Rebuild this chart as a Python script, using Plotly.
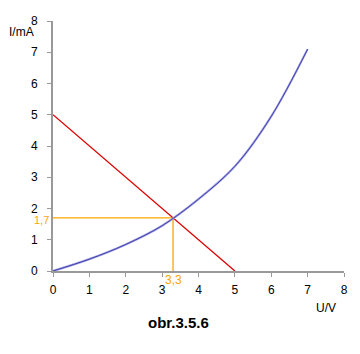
import plotly.graph_objects as go

# Data
u_curve = [0, 1, 2, 3, 4, 5, 6, 7]
i_curve = [0, 0.38, 0.85, 1.45, 2.3, 3.35, 4.95, 7.1]
u_load = [0, 5]
i_load = [5, 0]
u_op = 3.3
i_op = 1.7
x_ticks = [0, 1, 2, 3, 4, 5, 6, 7, 8]
y_ticks = [0, 1, 2, 3, 4, 5, 6, 7, 8]

FONT = "Liberation Sans, Arial, sans-serif"
ORANGE = "#ffa500"

fig = go.Figure()
fig.add_trace(go.Scatter(x=[0, u_op, u_op], y=[i_op, i_op, 0], mode="lines",
                         line=dict(color=ORANGE, width=1.3), hoverinfo="skip"))
fig.add_trace(go.Scatter(x=u_load, y=i_load, mode="lines",
                         line=dict(color="#dd0000", width=1.3), hoverinfo="skip"))
fig.add_trace(go.Scatter(x=u_curve, y=i_curve, mode="lines", line_shape="spline",
                         line=dict(color="#a0a0e4", width=2.2), hoverinfo="skip"))
fig.add_trace(go.Scatter(x=u_curve, y=i_curve, mode="lines", line_shape="spline",
                         line=dict(color="#2a2a9a", width=0.8), hoverinfo="skip"))

axis_common = dict(showgrid=False, zeroline=False, showline=True, linecolor="#999999",
                   linewidth=2, ticks="outside", tickcolor="#999999", ticklen=4,
                   tickwidth=1, tickfont=dict(family=FONT, size=12, color="black"))
fig.update_xaxes(range=[0, 8], tickvals=x_ticks, ticklabelstandoff=3, **axis_common)
fig.update_yaxes(range=[0, 8], tickvals=y_ticks, ticklabelstandoff=7, **axis_common)

fig.add_annotation(x=0, y=i_op, xref="x", yref="y", text="1,7", showarrow=False,
                   xanchor="right", xshift=-2, yshift=-2,
                   font=dict(family=FONT, size=11, color=ORANGE))
fig.add_annotation(x=u_op, y=0, xref="x", yref="y", text="3,3", showarrow=False,
                   yanchor="top", yshift=0, font=dict(family=FONT, size=12, color=ORANGE))
fig.add_annotation(x=-0.158, y=1.0, xref="paper", yref="paper", text="I/mA", showarrow=False,
                   xanchor="left", yanchor="middle", yshift=-11,
                   font=dict(family=FONT, size=12, color="black"))
fig.add_annotation(x=0.938, y=0, xref="paper", yref="paper", text="U/V", showarrow=False,
                   xanchor="center", yanchor="middle", yshift=-37,
                   font=dict(family=FONT, size=12, color="black"))
fig.add_annotation(x=0.43, y=0, xref="paper", yref="paper", text="<b>obr.3.5.6</b>",
                   showarrow=False, xanchor="center", yanchor="middle", yshift=-51,
                   font=dict(family=FONT, size=15, color="black"))

fig.update_layout(width=360, height=354, margin=dict(l=53, r=16, t=21, b=83),
                  paper_bgcolor="white", plot_bgcolor="white", showlegend=False)
fig.write_html("out.html")
